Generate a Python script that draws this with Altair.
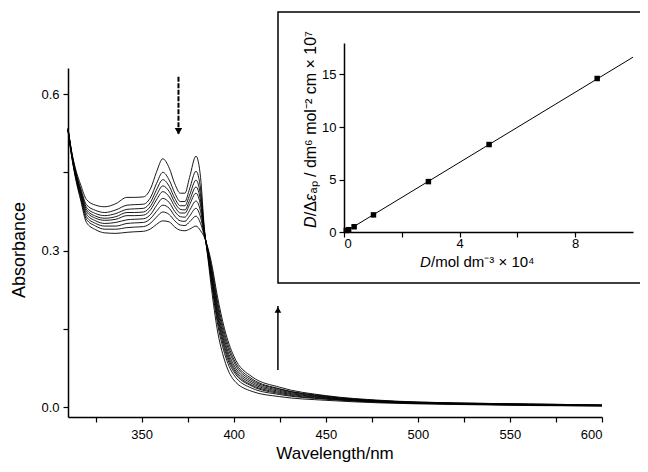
import altair as alt
import pandas as pd

# ---------------- data ----------------
wavelength = [310, 312, 314, 317, 320, 325, 330, 336, 342, 346, 351, 355, 358, 361.5,
              365, 368, 371, 373.5, 376, 379.5, 382, 384, 386, 388, 391, 395, 400,
              410, 425, 450, 480, 520, 560, 600]

spectrum_1 = [.535, .490, .458, .425, .398, .387, .384, .390, .402, .402, .403, .420, .450, .476,
              .458, .428, .410, .410, .440, .481, .440, .345, .285, .225, .150, .090, .052,
              .030, .020, .013, .008, .005, .003, .002]
spectrum_2 = [.534, .488, .454, .418, .388, .377, .373, .378, .387, .388, .389, .403, .428, .450,
              .435, .410, .394, .394, .418, .452, .418, .341, .289, .236, .164, .103, .062,
              .036, .024, .015, .009, .006, .004, .002]
spectrum_3 = [.533, .487, .452, .415, .383, .371, .367, .371, .379, .380, .381, .394, .416, .436,
              .423, .400, .386, .386, .406, .435, .405, .339, .292, .242, .172, .110, .068,
              .040, .026, .016, .010, .006, .004, .003]
spectrum_4 = [.533, .486, .450, .412, .379, .366, .362, .365, .373, .373, .374, .386, .406, .424,
              .413, .392, .379, .378, .396, .422, .395, .337, .294, .247, .179, .116, .072,
              .042, .028, .017, .010, .006, .004, .003]
spectrum_5 = [.532, .485, .448, .409, .375, .362, .358, .360, .367, .367, .368, .379, .397, .413,
              .403, .384, .372, .372, .388, .410, .386, .335, .296, .252, .185, .122, .076,
              .045, .030, .018, .011, .007, .005, .003]
spectrum_6 = [.532, .484, .446, .406, .370, .357, .352, .354, .359, .360, .361, .370, .386, .400,
              .392, .375, .365, .364, .377, .395, .375, .333, .298, .257, .192, .128, .081,
              .048, .032, .019, .011, .007, .005, .003]
spectrum_7 = [.531, .483, .444, .403, .365, .352, .347, .347, .352, .353, .354, .362, .375, .387,
              .381, .366, .357, .356, .366, .381, .364, .331, .300, .263, .199, .135, .087,
              .051, .034, .020, .012, .007, .005, .004]
spectrum_8 = [.531, .481, .443, .399, .360, .347, .341, .341, .344, .345, .346, .353, .364, .374,
              .369, .357, .349, .348, .355, .366, .352, .329, .302, .268, .206, .142, .092,
              .054, .035, .021, .012, .008, .006, .004]
spectrum_9 = [.530, .480, .440, .395, .354, .340, .334, .333, .335, .336, .337, .342, .350, .357,
              .355, .345, .339, .338, .341, .347, .338, .326, .305, .275, .215, .150, .098,
              .058, .038, .022, .013, .008, .006, .004]

# arrows (wavelength, start absorbance, tip absorbance)
arrow_wl = [370, 424]
arrow_start = [0.633, 0.071]
arrow_tip = [0.521, 0.194]

# inset: D (x 10^4 mol dm-3) vs D/de_ap
inset_conc = [0.08, 0.16, 0.35, 1.02, 2.92, 5.02, 8.76]
inset_ratio = [0.15, 0.22, 0.50, 1.63, 4.80, 8.33, 14.62]
fit_conc = [0, 10]
fit_ratio = [-0.05, 16.65]

main_y_title = "Absorbance"
main_x_title = "Wavelength/nm"
# inset titles split so that the symbols D and ε can be italic
inset_y_parts = ["D", "/Δ", "ε", "ₐₚ / dm⁶ mol⁻² cm × 10⁷"]
inset_y_italic = [True, False, True, False]
inset_x_parts = ["D", "/mol dm⁻³ × 10⁴"]
inset_x_italic = [True, False]

FONT = "Liberation Sans, Arial, sans-serif"

# ---------------- tables ----------------
spectra = [spectrum_1, spectrum_2, spectrum_3, spectrum_4, spectrum_5,
           spectrum_6, spectrum_7, spectrum_8, spectrum_9]
rows = []
for i, s in enumerate(spectra):
    for w, a in zip(wavelength, s):
        rows.append({"wl": w, "A": a, "run": i})
spec_df = pd.DataFrame(rows)

arrow_df = pd.DataFrame({"wl": arrow_wl, "a0": arrow_start, "a1": arrow_tip,
                         "dir": ["down", "up"]})
pts_df = pd.DataFrame({"c": inset_conc, "r": inset_ratio})
fit_df = pd.DataFrame({"c": fit_conc, "r": fit_ratio})

# ---------------- main plot ----------------
xs = alt.Scale(domain=[310, 600], nice=False, zero=False)
ys = alt.Scale(domain=[-0.019, 0.65], nice=False, zero=False)

axis_common = dict(grid=False, domainColor="black", domainWidth=1.5, tickColor="black",
                   tickWidth=1.2, tickSize=5, labelFont=FONT, labelColor="black",
                   labelFontSize=13, title=None)

x_axis = alt.Axis(values=list(range(325, 601, 25)),
                  labelExpr="datum.value % 50 == 0 ? datum.label : ''",
                  labelPadding=6, orient="bottom", **axis_common)
y_axis = alt.Axis(values=[0, 0.15, 0.3, 0.45, 0.6], format=".1f",
                  labelExpr="round(datum.value*100) % 30 == 0 ? datum.label : ''",
                  labelPadding=4, orient="left", **axis_common)

curves = alt.Chart(spec_df).mark_line(color="black", strokeWidth=0.9,
                                      interpolate="monotone").encode(
    x=alt.X("wl:Q", scale=xs, axis=x_axis),
    y=alt.Y("A:Q", scale=ys, axis=y_axis),
    detail="run:N",
)

down = arrow_df[arrow_df["dir"] == "down"]
up = arrow_df[arrow_df["dir"] == "up"]

down_rule = alt.Chart(down).mark_rule(color="black", strokeWidth=2,
                                      strokeDash=[5, 1.5]).encode(
    x=alt.X("wl:Q", scale=xs), y=alt.Y("a0:Q", scale=ys), y2="a1:Q")
down_head = alt.Chart(down).mark_point(shape="triangle-down", filled=True, color="black",
                                       opacity=1, size=55, yOffset=-4).encode(
    x=alt.X("wl:Q", scale=xs), y=alt.Y("a1:Q", scale=ys))
up_rule = alt.Chart(up).mark_rule(color="black", strokeWidth=1.5).encode(
    x=alt.X("wl:Q", scale=xs), y=alt.Y("a0:Q", scale=ys), y2="a1:Q")
up_head = alt.Chart(up).mark_point(shape="triangle-up", filled=True, color="black",
                                   opacity=1, size=45, yOffset=4).encode(
    x=alt.X("wl:Q", scale=xs), y=alt.Y("a1:Q", scale=ys))

main = alt.layer(curves, down_rule, down_head, up_rule, up_head)

# ---------------- inset box ----------------
box = alt.Chart(pd.DataFrame({"k": [0]})).mark_rect(
    fill="white", stroke="black", strokeWidth=1.5).encode(
    x=alt.value(210), x2=alt.value(600), y=alt.value(-56), y2=alt.value(215))

# ---------------- inset plot ----------------
ixs = alt.Scale(domain=[0, 10], range=[276, 565], nice=False, zero=False)
iys = alt.Scale(domain=[0, 18], range=[164, -25], nice=False, zero=False)

ix_axis = alt.Axis(values=[0, 2, 4, 6, 8], labelExpr="datum.value % 4 == 0 ? datum.label : ''",
                   orient="bottom", offset=-185, labelPadding=0, zindex=2, **axis_common)
iy_axis = alt.Axis(values=[0, 5, 10, 15], orient="left", offset=-276, labelPadding=3,
                   zindex=2, **axis_common)

fit = alt.Chart(fit_df).mark_line(color="black", strokeWidth=1).encode(
    x=alt.X("c:Q", scale=ixs, axis=ix_axis),
    y=alt.Y("r:Q", scale=iys, axis=iy_axis),
)
pts = alt.Chart(pts_df).mark_point(shape="square", filled=True, color="black",
                                   opacity=1, size=30).encode(
    x=alt.X("c:Q", scale=ixs), y=alt.Y("r:Q", scale=iys))

inset = alt.layer(fit, pts)

# ---------------- titles ----------------
def label(txt, x, y, angle=0, size=17, baseline="middle", align="center", italic=False):
    return alt.Chart(pd.DataFrame({"t": [txt]})).mark_text(
        font=FONT, fontSize=size, color="black", angle=angle, align=align,
        baseline=baseline, fontStyle="italic" if italic else "normal").encode(
        x=alt.value(x), y=alt.value(y), text="t:N")

# along-text advances (px) of the split title pieces
y_steps = [11.8, 15.2, 7.6]
x_steps = [11.0]

y_pieces = []
pos = 160.0
for k, (p, it) in enumerate(zip(inset_y_parts, inset_y_italic)):
    y_pieces.append(label(p, 243, pos, angle=270, size=16, align="left", italic=it))
    if k < len(y_steps):
        pos -= y_steps[k]

x_pieces = []
pos = 352.0
for k, (p, it) in enumerate(zip(inset_x_parts, inset_x_italic)):
    x_pieces.append(label(p, pos, 194, size=15, align="left", italic=it))
    if k < len(x_steps):
        pos += x_steps[k]

titles = alt.layer(
    label(main_y_title, -48, 182, angle=270, size=18),
    label(main_x_title, 267, 391, size=17, baseline="alphabetic"),
    *y_pieces, *x_pieces,
)

chart = alt.layer(main, box, inset, titles).resolve_scale(
    x="independent", y="independent").properties(
    width=534, height=349,
    padding={"left": 60, "top": 60, "right": 38, "bottom": 47},
    autosize=alt.AutoSizeParams(type="none"),
    background="white",
).configure_view(stroke=None)

chart.save("out.html", embed_options={"renderer": "svg", "actions": False})
